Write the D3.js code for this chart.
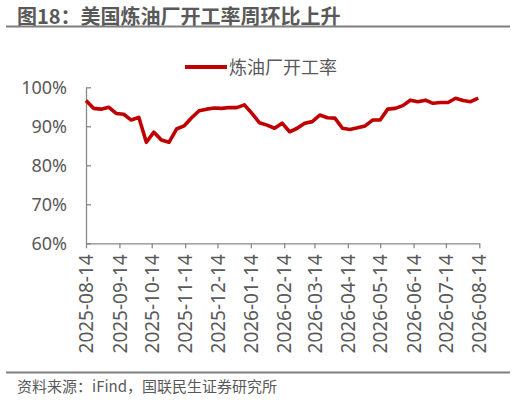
<!DOCTYPE html>
<html lang="zh">
<head>
<meta charset="utf-8">
<script src="https://cdn.jsdelivr.net/npm/d3@7"></script>
<style>
  body { margin: 0; background: #fff; }
  svg { display: block; }
  .tick text { fill: #595959; }
</style>
</head>
<body>
<svg width="516" height="400"></svg>
<script>
  // weekly refinery utilization (%), first week 2025-08-14
  var startDate = "2025-08-14";
  var rates = [
    96.6, 94.6, 94.4, 94.9, 93.3, 93.1, 91.6, 92.3, 85.9, 88.5,
    86.5, 85.9, 89.3, 90.1, 92.2, 94.0, 94.4, 94.7, 94.6, 94.8,
    94.8, 95.5, 93.3, 90.9, 90.3, 89.5, 90.8, 88.6, 89.5, 90.8,
    91.2, 92.9, 92.2, 92.1, 89.5, 89.2, 89.6, 90.1, 91.6, 91.6,
    94.4, 94.6, 95.3, 96.7, 96.3, 96.7, 95.9, 96.1, 96.1, 97.2,
    96.6, 96.3, 97.2
  ];
  var tickDates = [
    "2025-08-14", "2025-09-14", "2025-10-14", "2025-11-14", "2025-12-14",
    "2026-01-14", "2026-02-14", "2026-03-14", "2026-04-14", "2026-05-14",
    "2026-06-14", "2026-07-14", "2026-08-14"
  ];
  var yTicks = [60, 70, 80, 90, 100];

  var parse = d3.timeParse("%Y-%m-%d");
  var fmt = d3.timeFormat("%Y-%m-%d");
  var t0 = parse(startDate);
  var data = rates.map(function (v, i) {
    return { date: d3.timeDay.offset(t0, 7 * i), value: v };
  });

  var svg = d3.select("svg");
  var cjk = "'Noto Sans CJK SC', 'Noto Sans', sans-serif";
  var grey = "#595959";

  // title + rules
  svg.append("text")
    .attr("x", 17).attr("y", 24)
    .attr("font-family", cjk).attr("font-weight", "700")
    .attr("font-size", "20px").attr("fill", grey)
    .text("图18：美国炼油厂开工率周环比上升");
  svg.append("line")
    .attr("x1", 6).attr("x2", 510).attr("y1", 26.5).attr("y2", 26.5)
    .attr("stroke", "#7f7f7f").attr("stroke-width", 2);
  svg.append("line")
    .attr("x1", 6).attr("x2", 510).attr("y1", 372.5).attr("y2", 372.5)
    .attr("stroke", "#7f7f7f").attr("stroke-width", 2);
  svg.append("text")
    .attr("x", 17).attr("y", 392)
    .attr("font-family", cjk).attr("font-size", "15px").attr("fill", grey)
    .text("资料来源：iFind，国联民生证券研究所");

  var x = d3.scaleTime()
    .domain([parse(tickDates[0]), parse(tickDates[tickDates.length - 1])])
    .range([86, 479.3]);
  var y = d3.scaleLinear().domain([60, 100]).range([243.3, 87.3]);

  var xAxis = svg.append("g")
    .attr("transform", "translate(0,243.3)")
    .call(d3.axisBottom(x)
      .tickValues(tickDates.map(parse))
      .tickFormat(fmt)
      .tickSize(5).tickSizeOuter(0));
  xAxis.selectAll("text")
    .attr("font-family", "'Noto Sans', sans-serif")
    .attr("font-size", "19px")
    .attr("transform", "rotate(-90)")
    .attr("text-anchor", "end")
    .attr("x", -11).attr("y", 0).attr("dy", "0.35em");

  var yAxis = svg.append("g")
    .attr("transform", "translate(86,0)")
    .call(d3.axisLeft(y)
      .tickValues(yTicks)
      .tickFormat(function (d) { return d + "%"; })
      .tickSize(-5).tickSizeOuter(0));
  yAxis.selectAll("text")
    .attr("font-family", "'Noto Sans', sans-serif")
    .attr("font-size", "18px")
    .attr("x", -19);

  svg.selectAll(".domain, .tick line")
    .attr("stroke", "#888").attr("stroke-width", 1.3);

  // legend
  svg.append("line")
    .attr("x1", 185).attr("x2", 227).attr("y1", 67).attr("y2", 67)
    .attr("stroke", "#c00000").attr("stroke-width", 4);
  svg.append("text")
    .attr("x", 229).attr("y", 73.5)
    .attr("font-family", cjk).attr("font-size", "18px").attr("fill", grey)
    .text("炼油厂开工率");

  var line = d3.line()
    .x(function (d) { return x(d.date); })
    .y(function (d) { return y(d.value); });

  svg.append("path")
    .datum(data)
    .attr("d", line)
    .attr("fill", "none")
    .attr("stroke", "#c00000")
    .attr("stroke-width", 3.6)
    .attr("stroke-linejoin", "round");
</script>
</body>
</html>
